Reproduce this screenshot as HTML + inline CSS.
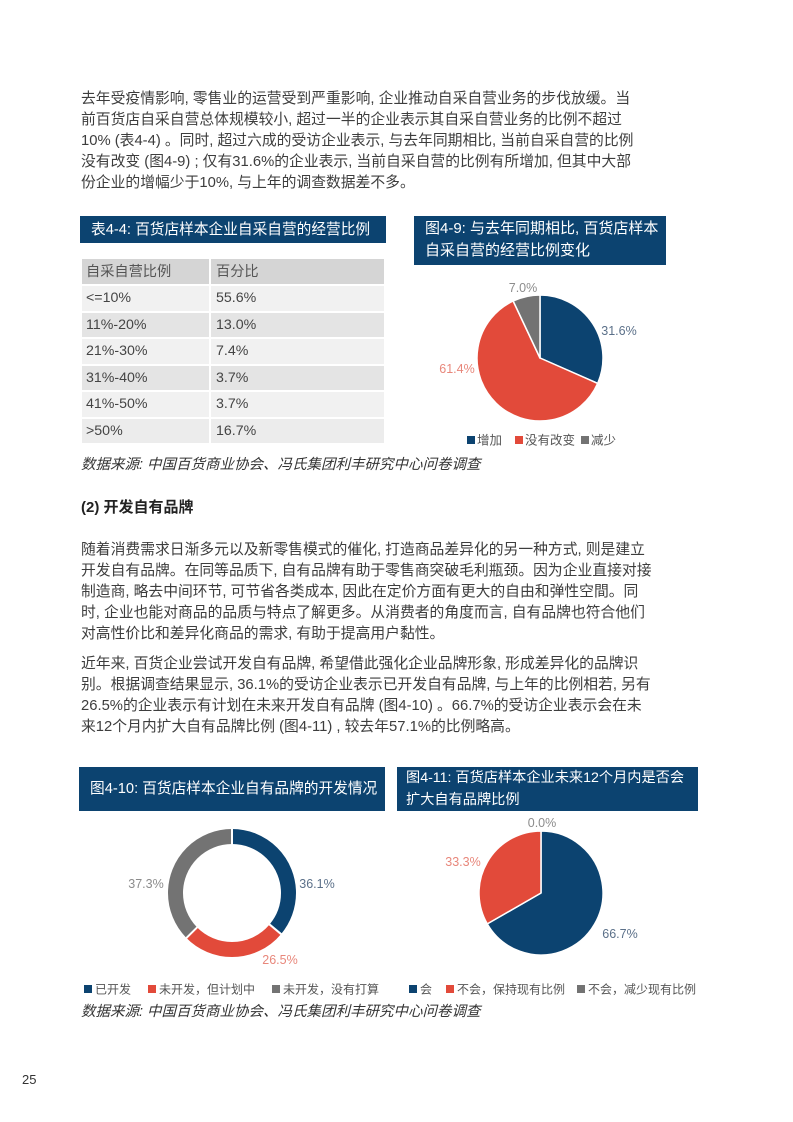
<!DOCTYPE html>
<html>
<head>
<meta charset="utf-8">
<style>
  html, body { margin:0; padding:0; background:#fff; }
  #page { position:relative; width:793px; height:1122px; overflow:hidden; background:#fff;
    font-family:"Liberation Sans","Noto Sans CJK SC",sans-serif; color:#3d3d3d; }
  .ln { position:absolute; left:81px; white-space:nowrap; font-size:14.8px; line-height:20px; height:20px; }
  .bar { position:absolute; background:#0c4370; }
  .bt { position:absolute; white-space:nowrap; color:#fff; font-size:14.7px; line-height:20px; }
  .cell { position:absolute; white-space:nowrap; font-size:14.2px; line-height:20px; color:#444; }
  .src { position:absolute; left:81px; white-space:nowrap; font-style:italic; font-size:14.5px; line-height:20px; color:#333; }
</style>
</head>
<body>
<div id="page">

  <!-- Paragraph 1 -->
  <div class="ln" style="top:89px;">去年受疫情影响, 零售业的运营受到严重影响, 企业推动自采自营业务的步伐放缓。当</div>
  <div class="ln" style="top:110px;">前百货店自采自营总体规模较小, 超过一半的企业表示其自采自营业务的比例不超过</div>
  <div class="ln" style="top:131px;">10% (表4-4) 。同时, 超过六成的受访企业表示, 与去年同期相比, 当前自采自营的比例</div>
  <div class="ln" style="top:152px;">没有改变 (图4-9) ; 仅有31.6%的企业表示, 当前自采自营的比例有所增加, 但其中大部</div>
  <div class="ln" style="top:173px;">份企业的增幅少于10%, 与上年的调查数据差不多。</div>

  <!-- Table 4-4 -->
  <div class="bar" style="left:80px; top:216px; width:306px; height:27px;"></div>
  <div class="bt" style="left:91px; top:219.5px;">表4-4: 百货店样本企业自采自营的经营比例</div>

  <div style="position:absolute; left:82px; top:259px; width:302px; height:25px; background:#d5d5d5;"></div>
  <div style="position:absolute; left:82px; top:286px; width:302px; height:24.5px; background:#f1f1f1;"></div>
  <div style="position:absolute; left:82px; top:312.5px; width:302px; height:24.5px; background:#e4e4e4;"></div>
  <div style="position:absolute; left:82px; top:339px; width:302px; height:24.5px; background:#f1f1f1;"></div>
  <div style="position:absolute; left:82px; top:365.5px; width:302px; height:24.5px; background:#e4e4e4;"></div>
  <div style="position:absolute; left:82px; top:392px; width:302px; height:24.5px; background:#f1f1f1;"></div>
  <div style="position:absolute; left:82px; top:418.5px; width:302px; height:24.5px; background:#ececec;"></div>
  <div style="position:absolute; left:209px; top:259px; width:2px; height:185px; background:#fff;"></div>

  <div class="cell" style="left:86px; top:261.5px; color:#555;">自采自营比例</div>
  <div class="cell" style="left:216px; top:261.5px; color:#555;">百分比</div>
  <div class="cell" style="left:86px; top:288px;">&lt;=10%</div>
  <div class="cell" style="left:216px; top:288px;">55.6%</div>
  <div class="cell" style="left:86px; top:314.5px;">11%-20%</div>
  <div class="cell" style="left:216px; top:314.5px;">13.0%</div>
  <div class="cell" style="left:86px; top:341px;">21%-30%</div>
  <div class="cell" style="left:216px; top:341px;">7.4%</div>
  <div class="cell" style="left:86px; top:367.5px;">31%-40%</div>
  <div class="cell" style="left:216px; top:367.5px;">3.7%</div>
  <div class="cell" style="left:86px; top:394px;">41%-50%</div>
  <div class="cell" style="left:216px; top:394px;">3.7%</div>
  <div class="cell" style="left:86px; top:420.5px;">&gt;50%</div>
  <div class="cell" style="left:216px; top:420.5px;">16.7%</div>

  <div class="src" style="top:455px;">数据来源: 中国百货商业协会、冯氏集团利丰研究中心问卷调查</div>

  <!-- Fig 4-9 title -->
  <div class="bar" style="left:414px; top:216px; width:252px; height:49px;"></div>
  <div class="bt" style="left:425px; top:219px; font-size:15px;">图4-9: 与去年同期相比, 百货店样本</div>
  <div class="bt" style="left:425px; top:241px; font-size:15px;">自采自营的经营比例变化</div>

  <!-- Section heading -->
  <div class="ln" style="top:498px; font-weight:bold; color:#222; font-size:15px;">(2) 开发自有品牌</div>

  <!-- Paragraph 2 -->
  <div class="ln" style="top:540px;">随着消费需求日渐多元以及新零售模式的催化, 打造商品差异化的另一种方式, 则是建立</div>
  <div class="ln" style="top:561px;">开发自有品牌。在同等品质下, 自有品牌有助于零售商突破毛利瓶颈。因为企业直接对接</div>
  <div class="ln" style="top:582px;">制造商, 略去中间环节, 可节省各类成本, 因此在定价方面有更大的自由和弹性空間。同</div>
  <div class="ln" style="top:603px;">时, 企业也能对商品的品质与特点了解更多。从消费者的角度而言, 自有品牌也符合他们</div>
  <div class="ln" style="top:624px;">对高性价比和差异化商品的需求, 有助于提高用户黏性。</div>

  <!-- Paragraph 3 -->
  <div class="ln" style="top:654px;">近年来, 百货企业尝试开发自有品牌, 希望借此强化企业品牌形象, 形成差异化的品牌识</div>
  <div class="ln" style="top:675px;">别。根据调查结果显示, 36.1%的受访企业表示已开发自有品牌, 与上年的比例相若, 另有</div>
  <div class="ln" style="top:696px;">26.5%的企业表示有计划在未来开发自有品牌 (图4-10) 。66.7%的受访企业表示会在未</div>
  <div class="ln" style="top:717px;">来12个月内扩大自有品牌比例 (图4-11) , 较去年57.1%的比例略高。</div>

  <!-- Fig 4-10 title -->
  <div class="bar" style="left:79px; top:767px; width:306px; height:44px;"></div>
  <div class="bt" style="left:90px; top:779px;">图4-10: 百货店样本企业自有品牌的开发情况</div>

  <!-- Fig 4-11 title -->
  <div class="bar" style="left:397px; top:767px; width:301px; height:44px;"></div>
  <div class="bt" style="left:406px; top:768px; font-size:14.2px;">图4-11: 百货店样本企业未来12个月内是否会</div>
  <div class="bt" style="left:406px; top:790px; font-size:14.2px;">扩大自有品牌比例</div>

  <div class="src" style="top:1002px;">数据来源: 中国百货商业协会、冯氏集团利丰研究中心问卷调查</div>

  <div style="position:absolute; left:22px; top:1071px; font-size:13px; line-height:18px; color:#333;">25</div>

  <!-- Charts -->
  <svg style="position:absolute; left:0; top:0;" width="793" height="1122" xmlns="http://www.w3.org/2000/svg"
       font-family="Liberation Sans, Noto Sans CJK SC, sans-serif">
    <!-- Pie 4-9 -->
    <g stroke="#fff" stroke-width="1.5" stroke-linejoin="round">
      <path d="M540,358 L540,295 A63,63 0 0,1 597.66,383.38 Z" fill="#0c4370"/>
      <path d="M540,358 L597.66,383.38 A63,63 0 1,1 513.17,301.0 Z" fill="#e24a3a"/>
      <path d="M540,358 L513.17,301.0 A63,63 0 0,1 540,295 Z" fill="#737373"/>
    </g>
    <g font-size="12.5" dominant-baseline="central" text-anchor="middle">
      <text x="523" y="288" fill="#8c8c8c">7.0%</text>
      <text x="619" y="331" fill="#5b7089">31.6%</text>
      <text x="457" y="369" fill="#e8877b">61.4%</text>
    </g>
    <g font-size="12.5" fill="#555" dominant-baseline="central">
      <rect x="467" y="436" width="8" height="8" fill="#0c4370"/>
      <text x="477" y="440.5">增加</text>
      <rect x="515" y="436" width="8" height="8" fill="#e24a3a"/>
      <text x="525" y="440.5">没有改变</text>
      <rect x="581" y="436" width="8" height="8" fill="#737373"/>
      <text x="591" y="440.5">减少</text>
    </g>

    <!-- Donut 4-10 -->
    <g fill="none" stroke-width="15" transform="rotate(-90 232 893)">
      <circle cx="232" cy="893" r="56.5" stroke="#0c4370" stroke-dasharray="128.3 400" stroke-dashoffset="0"/>
      <circle cx="232" cy="893" r="56.5" stroke="#e24a3a" stroke-dasharray="94.2 400" stroke-dashoffset="-128.3"/>
      <circle cx="232" cy="893" r="56.5" stroke="#737373" stroke-dasharray="132.6 400" stroke-dashoffset="-222.5"/>
    </g>
    <g stroke="#fff" stroke-width="2">
      <line x1="232" y1="845" x2="232" y2="828"/>
      <line x1="268.8" y1="923.8" x2="281.8" y2="934.7"/>
      <line x1="197.8" y1="926.7" x2="185.7" y2="938.7"/>
    </g>
    <g font-size="12.5" dominant-baseline="central" text-anchor="middle">
      <text x="317" y="884" fill="#5b7089">36.1%</text>
      <text x="146" y="884" fill="#8c8c8c">37.3%</text>
      <text x="280" y="960" fill="#e8877b">26.5%</text>
    </g>
    <g font-size="12" fill="#555" dominant-baseline="central">
      <rect x="84" y="985" width="8" height="8" fill="#0c4370"/>
      <text x="95" y="989.5">已开发</text>
      <rect x="148" y="985" width="8" height="8" fill="#e24a3a"/>
      <text x="159" y="989.5">未开发，但计划中</text>
      <rect x="272" y="985" width="8" height="8" fill="#737373"/>
      <text x="283" y="989.5">未开发，没有打算</text>
    </g>

    <!-- Pie 4-11 -->
    <g stroke="#fff" stroke-width="1.5" stroke-linejoin="round">
      <path d="M541,893 L541,831 A62,62 0 1,1 487.24,923.89 Z" fill="#0c4370"/>
      <path d="M541,893 L487.24,923.89 A62,62 0 0,1 541,831 Z" fill="#e24a3a"/>
    </g>
    <g font-size="12.5" dominant-baseline="central" text-anchor="middle">
      <text x="542" y="823" fill="#8c8c8c">0.0%</text>
      <text x="463" y="862" fill="#e8877b">33.3%</text>
      <text x="620" y="934" fill="#5b7089">66.7%</text>
    </g>
    <g font-size="12" fill="#555" dominant-baseline="central">
      <rect x="409" y="985" width="8" height="8" fill="#0c4370"/>
      <text x="420" y="989.5">会</text>
      <rect x="446" y="985" width="8" height="8" fill="#e24a3a"/>
      <text x="457" y="989.5">不会，保持现有比例</text>
      <rect x="577" y="985" width="8" height="8" fill="#737373"/>
      <text x="588" y="989.5">不会，减少现有比例</text>
    </g>
  </svg>
</div>
</body>
</html>
